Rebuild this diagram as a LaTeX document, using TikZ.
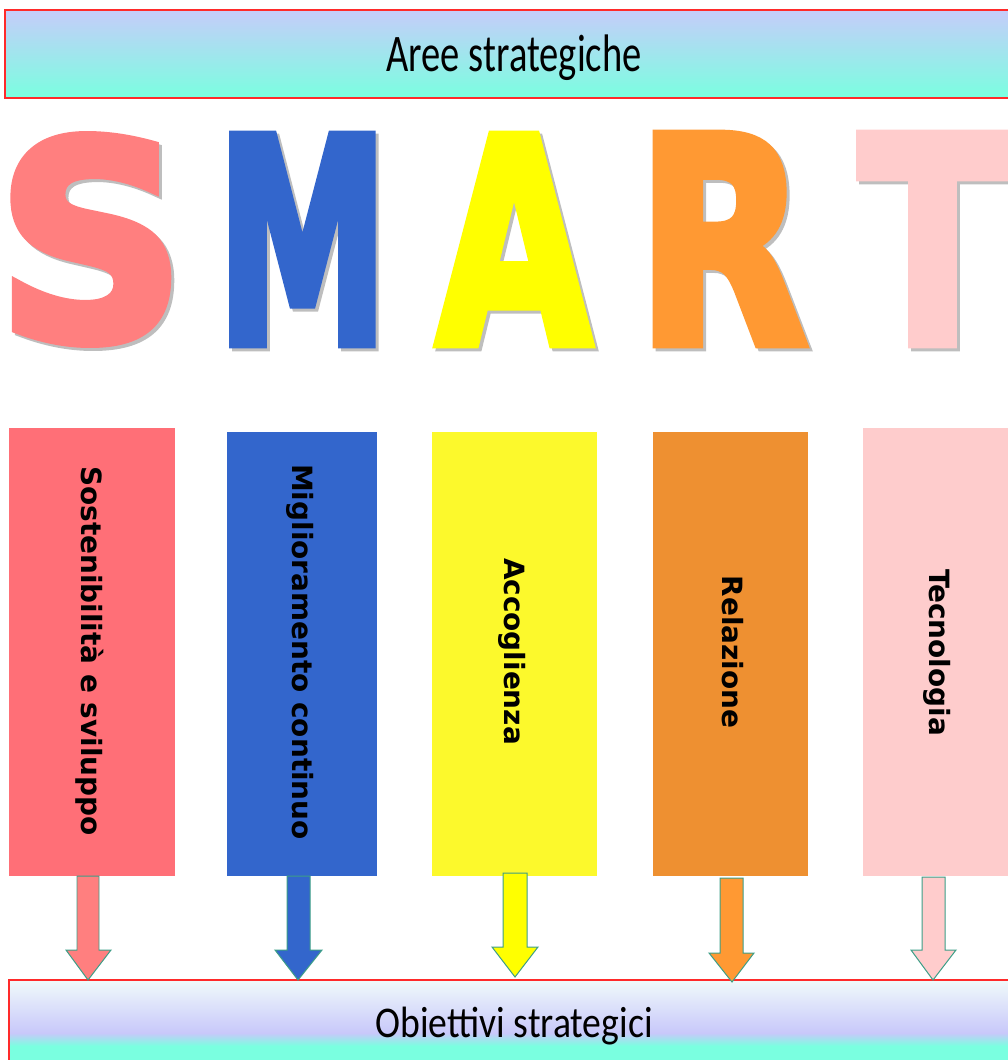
\documentclass[tikz,border=0pt]{standalone}
\usepackage{fontspec}
\setmainfont{Carlito}
\newfontfamily\colf{DejaVu Sans}
\newfontfamily\bigf{DejaVu Sans}[BoldFeatures={FakeBold=4}]
\definecolor{cS}{HTML}{FF7F7F}
\definecolor{cM}{HTML}{3366CC}
\definecolor{cA}{HTML}{FFFF00}
\definecolor{cR}{HTML}{FF9933}
\definecolor{cT}{HTML}{FFCCCC}
\definecolor{k1}{HTML}{FF6F77}
\definecolor{k2}{HTML}{3366CC}
\definecolor{k3}{HTML}{FCF92C}
\definecolor{k4}{HTML}{EE9031}
\definecolor{k5}{HTML}{FECCCC}
\definecolor{teal1}{HTML}{3C9E87}
\definecolor{redb}{HTML}{FF2A2A}
\definecolor{lav}{HTML}{C6CCFA}
\definecolor{aqua}{HTML}{7AFFE0}
\definecolor{lav2}{HTML}{C8C8FA}
\definecolor{whit}{HTML}{F0FAFA}
\definecolor{shad}{HTML}{BEBEBE}
\tikzset{
  coltext/.style={rotate=-90, anchor=base, inner sep=0pt, font=\colf\bfseries\fontsize{28}{30}\selectfont},
  blockarrow/.style={draw=teal1, line width=1pt, line join=miter},
  bigletter/.style={inner sep=0pt, anchor=center},
}
\newcommand{\bigletr}[3]{\resizebox*{#1}{#2}{\bigf\bfseries #3}}
\begin{document}
\begin{tikzpicture}[x=1bp,y=-1bp]
\useasboundingbox (0,0) rectangle (1008,1060);
% top banner
\shade[top color=lav, bottom color=aqua] (5,10) rectangle (1012,98);
\draw[redb, line width=1.2pt] (1012,10) -- (5,10) -- (5,98) -- (1012,98);
\node[anchor=base, inner sep=0pt, font=\fontsize{53}{56}\selectfont] (top) at (514,71) {\scalebox{0.73}[1]{Aree strategiche}};
% big letters (shadows then letters)
\foreach \L/\w/\cx/\cy/\h in {S/188/91/239.5/206, M/171/302.5/239.5/206, A/154/514/239.5/206, R/170/722/239/207, T/146/932.5/239/207}{
  \node[bigletter, text=shad] at (\cx+3,\cy+3) {\bigletr{\w bp}{\h bp}{\L}};
}
\node[bigletter, text=cS] (S) at (91,239.5) {\bigletr{188bp}{206bp}{S}};
\node[bigletter, text=cM] (M) at (302.5,239.5) {\bigletr{171bp}{206bp}{M}};
\node[bigletter, text=cA] (A) at (514,239.5) {\bigletr{154bp}{206bp}{A}};
\node[bigletter, text=cR] (R) at (722,239) {\bigletr{170bp}{207bp}{R}};
\node[bigletter, text=cT] (T) at (932.5,239) {\bigletr{146bp}{207bp}{T}};
% columns
\fill[k1] (9,428) rectangle (175,876);
\fill[k2] (227,432) rectangle (377,876);
\fill[k3] (432,432) rectangle (597,876);
\fill[k4] (653,432) rectangle (808,876);
\fill[k5] (863,428) rectangle (1012,876);
\node[coltext] (t1) at (81,651) {Sostenibilità e sviluppo};
\node[coltext] (t2) at (292,652) {Miglioramento continuo};
\node[coltext] (t3) at (504,651.5) {Accoglienza};
\node[coltext] (t4) at (722,652) {Relazione};
\node[coltext] (t5) at (929,652.5) {Tecnologia};
% bottom banner
\shade[top color=whit, bottom color=lav2] (9,980) rectangle (1012,1033);
\shade[top color=lav2, bottom color=aqua] (9,1033) rectangle (1012,1046);
\fill[aqua] (9,1046) rectangle (1012,1061);
\draw[redb, line width=1.2pt] (1012,980) -- (9,980) -- (9,1061);
\node[anchor=base, inner sep=0pt, font=\fontsize{44}{48}\selectfont] (bot) at (514,1037) {\scalebox{0.86}[1]{Obiettivi strategici}};
% block arrows
\draw[blockarrow, fill=cS] (77,876) -- (99,876) -- (99,950) -- (111,950) -- (88,980) -- (66,950) -- (77,950) -- cycle;
\draw[blockarrow, fill=cM] (287,876) -- (310,876) -- (310,950) -- (322,950) -- (298,980) -- (275,950) -- (287,950) -- cycle;
\draw[blockarrow, fill=cA] (503,873) -- (527,873) -- (527,947) -- (538,947) -- (515,977) -- (492,947) -- (503,947) -- cycle;
\draw[blockarrow, fill=cR] (720,878) -- (743,878) -- (743,953) -- (754,953) -- (732,982) -- (709,953) -- (720,953) -- cycle;
\draw[blockarrow, fill=cT] (922,877) -- (945,877) -- (945,950) -- (956,950) -- (933,980) -- (911,950) -- (922,950) -- cycle;
\end{tikzpicture}
\end{document}
